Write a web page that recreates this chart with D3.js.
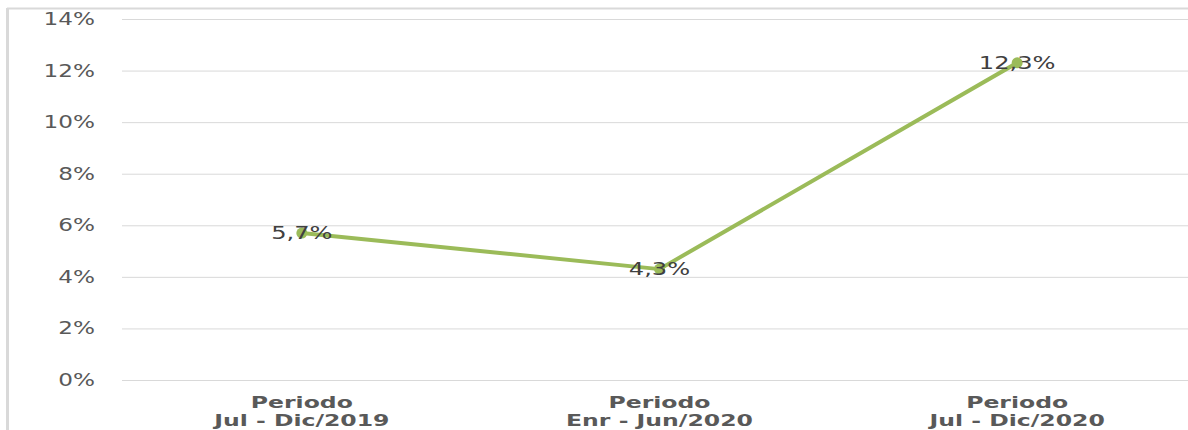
<!DOCTYPE html>
<html>
<head>
<meta charset="utf-8">
<script src="https://cdn.jsdelivr.net/npm/d3@7"></script>
<style>
  body { margin: 0; background: #fff; }
  svg { display: block; font-family: 'DejaVu Sans', sans-serif; }
</style>
</head>
<body>
<svg id="chart" width="1188" height="430"></svg>
<script>
const periods = ['Periodo|Jul - Dic/2019', 'Periodo|Enr - Jun/2020', 'Periodo|Jul - Dic/2020'];
const values = [5.7, 4.3, 12.3];
const labels = ['5,7%', '4,3%', '12,3%'];
const yTicks = [0, 2, 4, 6, 8, 10, 12, 14];

const width = 1188;
const height = 430;
const margin = { top: 19, right: -8, bottom: 50, left: 123 };
const svg = d3.select('#chart');

// stretch text horizontally, the picture is wider than it is tall
const stretch = (sel, k) => sel.each(function () {
  const len = this.getComputedTextLength();
  d3.select(this).attr('textLength', len * k).attr('lengthAdjust', 'spacingAndGlyphs');
});

const x = d3.scaleBand()
  .domain(periods)
  .range([margin.left, width - margin.right]);

const y = d3.scaleLinear()
  .domain([0, 14])
  .range([height - margin.bottom, margin.top]);

// frame (only top and left visible)
svg.append('line').attr('x1', 7).attr('x2', width).attr('y1', 8.5).attr('y2', 8.5)
  .attr('stroke', '#d9d9d9').attr('stroke-width', 2);
svg.append('line').attr('x1', 7.5).attr('x2', 7.5).attr('y1', 8).attr('y2', height)
  .attr('stroke', '#d9d9d9').attr('stroke-width', 3);

// grid + y labels
const yAxis = (g) => {
  g.attr('transform', `translate(${margin.left},0)`)
    .call(d3.axisLeft(y).tickValues(yTicks).tickSize(0).tickPadding(28).tickFormat((d) => `${d}%`))
    .call((g) => g.select('.domain').remove())
    .call((g) => {
      g.selectAll('.tick line')
        .attr('x1', -1)
        .attr('x2', width - margin.left)
        .attr('stroke', '#d9d9d9')
        .attr('stroke-width', 1);
      g.selectAll('.tick text')
        .attr('fill', '#595959')
        .attr('font-size', 17)
        .attr('font-family', "'DejaVu Sans', sans-serif")
        .call(stretch, 1.36);
    });
};
svg.append('g').call(yAxis);

// x labels
const xg = svg.append('g');
periods.forEach((p) => {
  const [a, b] = p.split('|');
  const cx = x(p) + x.bandwidth() / 2;
  const t = xg.append('text')
    .attr('text-anchor', 'middle')
    .attr('fill', '#595959')
    .attr('font-size', 16)
    .attr('font-weight', 'bold');
  t.append('tspan').attr('x', cx).attr('y', 408).text(a);
  t.append('tspan').attr('x', cx).attr('y', 426).text(b);
});
xg.selectAll('tspan').call(stretch, 1.47);

// line
const cxOf = (i) => x(periods[i]) + x.bandwidth() / 2;
const line = d3.line()
  .x((d, i) => cxOf(i))
  .y((d) => y(d));

svg.append('path')
  .datum(values)
  .attr('fill', 'none')
  .attr('stroke', '#9bbb59')
  .attr('stroke-width', 4)
  .attr('stroke-linejoin', 'round')
  .attr('d', line);

svg.selectAll('circle.pt')
  .data(values)
  .join('circle')
  .attr('class', 'pt')
  .attr('cx', (d, i) => cxOf(i))
  .attr('cy', (d) => y(d))
  .attr('r', 5.5)
  .attr('fill', '#9bbb59');

svg.selectAll('text.lbl')
  .data(values)
  .join('text')
  .attr('class', 'lbl')
  .attr('x', (d, i) => cxOf(i))
  .attr('y', (d) => y(d) + 6)
  .attr('text-anchor', 'middle')
  .attr('fill', '#404040')
  .attr('font-size', 17)
  .text((d, i) => labels[i])
  .call(stretch, 1.42);
</script>
</body>
</html>
